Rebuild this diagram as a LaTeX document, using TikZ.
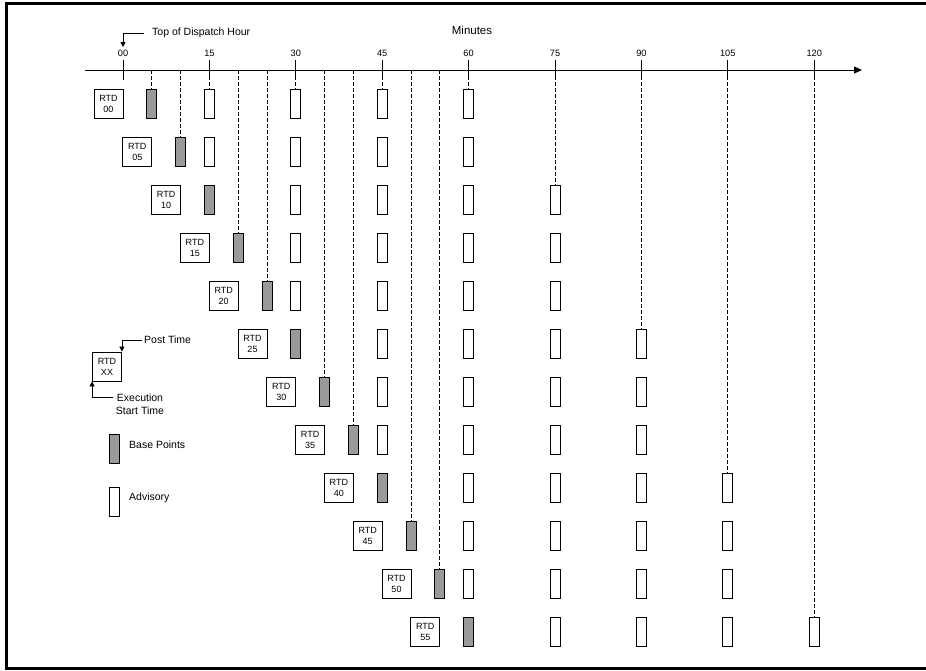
\documentclass[tikz,border=0pt]{standalone}
\usepackage{fontspec}
\setmainfont{Liberation Sans}
\usetikzlibrary{arrows.meta,calc}
\definecolor{basegray}{HTML}{9A9A9A}
\begin{document}
\begin{tikzpicture}[x=1pt,y=-1pt,
  numlbl/.style={inner sep=0pt, font=\fontsize{9.2}{10}\selectfont},
  legtext/.style={inner sep=0pt, font=\fontsize{10.5}{12}\selectfont},
  rtdbox/.style={draw, fill=white, line width=0.8pt, minimum width=29pt, minimum height=29pt, inner sep=0pt, align=center, font=\fontsize{9}{11}\selectfont},
  basebox/.style={draw, fill=basegray, line width=0.8pt, minimum width=10pt, minimum height=29pt, inner sep=0pt},
  advbox/.style={draw, fill=white, line width=0.8pt, minimum width=10pt, minimum height=29pt, inner sep=0pt},
  guide/.style={dash pattern=on 3.5pt off 2.5pt, line width=0.85pt},
  tickline/.style={line width=0.85pt},
  ptr/.style={line width=0.8pt, -{Triangle[width=5pt,length=5pt]}},
]
\useasboundingbox (0,0) rectangle (926,670);
\clip (0,0) rectangle (926,670);
\fill[white] (0,0) rectangle (926,670);
% frame
\draw[line width=3.2pt] (6.5,3.5) rectangle (950,668.5);

% axis coordinates
\foreach \m in {0,5,...,120} {
  \coordinate (ax-\m) at ({123+5.76*\m},70);
}
\coordinate (axstart) at (85,70);
\coordinate (axend) at (862,70);

% rows of boxes
\foreach \k in {0,...,11} {
  \pgfmathsetmacro\yc{103.5+48*\k}
  \pgfmathtruncatemacro\rmin{5*\k}
  \pgfmathtruncatemacro\bmin{5*\k+5}
  \pgfmathsetmacro\xr{123+5.76*\rmin-14.5}
  \node[rtdbox] (rtd-\k) at (\xr,\yc) {RTD\\\ifnum\rmin<10 0\fi\rmin};
  \node[basebox] (b-\k-\bmin) at ({123+5.76*\bmin},\yc) {};
  \pgfmathtruncatemacro\fmin{15*(div(\bmin,15)+1)}
  \foreach \j in {0,1,2,3} {
    \pgfmathtruncatemacro\amin{\fmin+15*\j}
    \node[advbox] (b-\k-\amin) at ({123+5.76*\amin},\yc) {};
  }
}

% dashed guides from the axis to the first box at each minute
\foreach \m/\r in {5/0,10/1,15/0,20/3,25/4,30/0,35/6,40/7,45/0,50/9,55/10,60/0,75/2,90/5,105/8,120/11} {
  \draw[guide] (ax-\m) -- (b-\r-\m.north);
}

% axis
\draw[line width=0.8pt, -{Triangle[width=7pt,length=8pt]}] (axstart) -- (axend);
\foreach \m in {0,15,...,120} {
  \draw[tickline] ($(ax-\m)+(0,-10)$) -- ($(ax-\m)+(0,10)$);
  \node[numlbl] (n-\m) at ({123+5.76*\m},53) {\ifnum\m=0 00\else\m\fi};
}

\node[font=\fontsize{11.5}{13}\selectfont, inner sep=0pt] (minutes) at (472,30) {Minutes};
\node[legtext, anchor=west] (tdh) at (152,33) {Top of Dispatch Hour};
\draw[ptr] ($(tdh.west)+(-8,0)$) -| ([yshift=2.5pt]n-0.north);

% legend
\node[rtdbox] (leg-rtd) at (107,366.5) {RTD\\XX};
\node[legtext, anchor=west] (post) at (144,340) {Post Time};
\draw[ptr] ($(post.west)+(-2.5,0)$) -| (leg-rtd.north east);
\node[legtext] (exec) at (140,397.5) {Execution};
\node[legtext] (start) at (140,411) {Start Time};
\draw[ptr] ($(exec.west)+(-3.5,0)$) -| (leg-rtd.south west);

\node[basebox] (leg-base) at (114,448.5) {};
\node[legtext, anchor=west] (leg-base-t) at (129,445) {Base Points};
\node[advbox] (leg-adv) at (114,501.5) {};
\node[legtext, anchor=west] (leg-adv-t) at (129,498) {Advisory};
\end{tikzpicture}
\end{document}
